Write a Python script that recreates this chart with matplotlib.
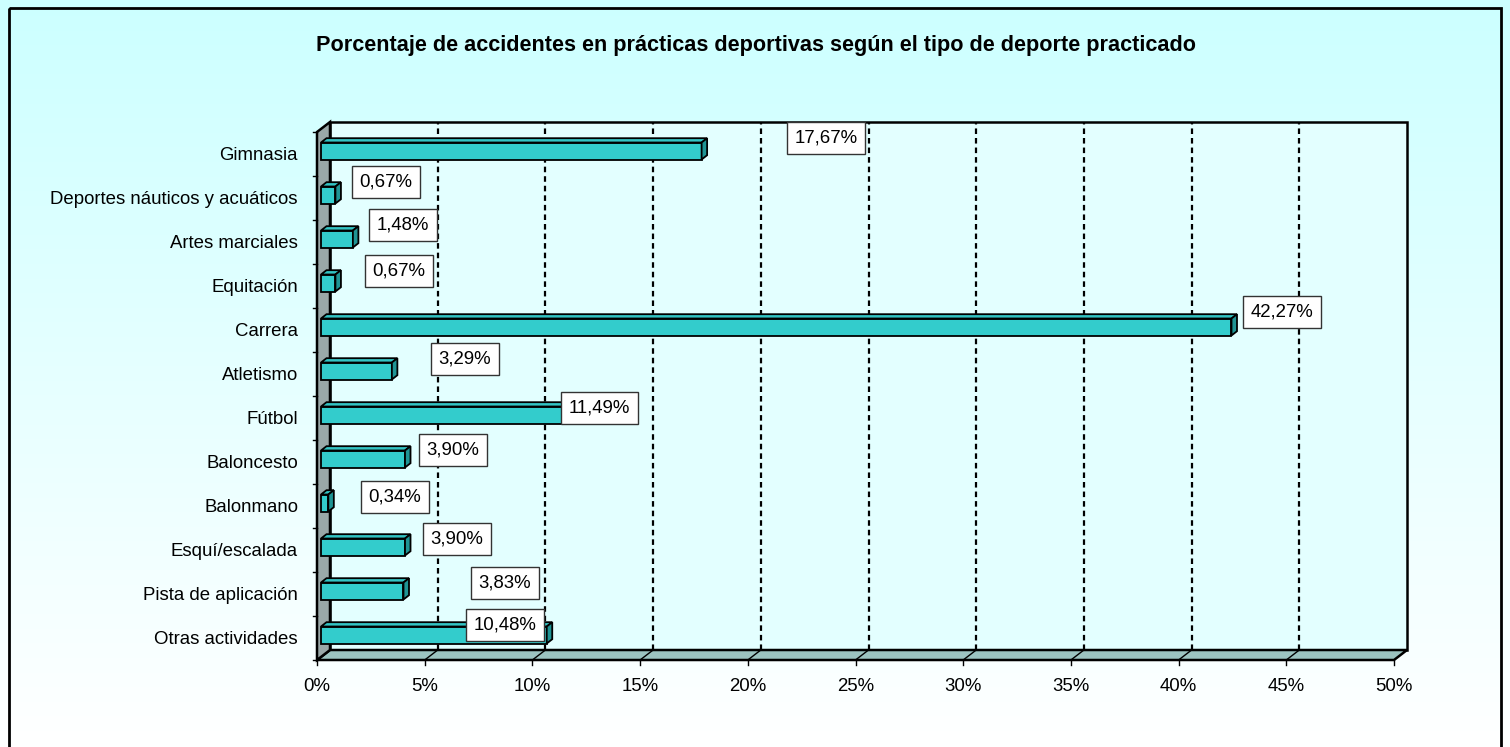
import numpy as np
import matplotlib.pyplot as plt
from matplotlib.patches import Polygon, Rectangle

plt.rcParams['font.family'] = ['Liberation Sans', 'DejaVu Sans']

# Data
categories = ['Gimnasia', 'Deportes náuticos y acuáticos', 'Artes marciales', 'Equitación',
              'Carrera', 'Atletismo', 'Fútbol', 'Baloncesto', 'Balonmano',
              'Esquí/escalada', 'Pista de aplicación', 'Otras actividades']
values = [17.67, 0.67, 1.48, 0.67, 42.27, 3.29, 11.49, 3.90, 0.34, 3.90, 3.83, 10.48]
value_labels = ['17,67%', '0,67%', '1,48%', '0,67%', '42,27%', '3,29%', '11,49%',
                '3,90%', '0,34%', '3,90%', '3,83%', '10,48%']
xticks = [0, 5, 10, 15, 20, 25, 30, 35, 40, 45, 50]
xtick_labels = ['0%', '5%', '10%', '15%', '20%', '25%', '30%', '35%', '40%', '45%', '50%']
title = 'Porcentaje de accidentes en prácticas deportivas según el tipo de deporte practicado'

# where the value boxes sit (x in %, shift up in px from the category centre)
label_x = [23.63, 3.20, 3.99, 3.81, 44.80, 6.87, 13.11, 6.31, 3.62, 6.50, 8.73, 8.73]
label_dy = [16, 16, 17, 15, 18, 15, 10, 12, 9, 11, 11, 13]

W, H = 1510, 747
fs = 13.4
fig = plt.figure(figsize=(W / 100, H / 100), dpi=100)

# background with gradient and frame
bg = fig.add_axes([0, 0, 1, 1])
bg.set_xlim(0, W)
bg.set_ylim(H, 0)
bg.axis('off')
c_top = np.array([0.80, 1.0, 1.0])
c_bot = np.array([1.0, 1.0, 1.0])
t = np.linspace(0, 1, 256)[:, None]
grad = (c_top * (1 - t) + c_bot * t)[:, None, :]
bg.imshow(grad, extent=(0, W, H, 0), aspect='auto', zorder=0)
bg.add_patch(Rectangle((8.5, 7.5), 1492, 760, fill=False, ec='black', lw=2, zorder=1, clip_on=False))
bg.text(756, 45, title, ha='center', va='center', fontsize=15.6, fontweight='bold')

# main axes = front plane of the 3d box
x0, x1, y0, y1 = 317, 1394, 132, 660
ax = fig.add_axes([x0 / W, (H - y1) / H, (x1 - x0) / W, (y1 - y0) / H])
ax.set_facecolor('none')
for s in ax.spines.values():
    s.set_visible(False)
n = len(categories)
ax.set_xlim(0, 50)
ax.set_ylim(-0.5, n - 0.5)
PX = (x1 - x0) / 50
PY = (y1 - y0) / n
DX, DY = 13 / PX, 10 / PY
lo, hi = -0.5, n - 0.5

# walls and floor
ax.add_patch(Rectangle((DX, lo + DY), 50, n, fc='#e3ffff', ec='black', lw=1.8, zorder=1, clip_on=False))
ax.add_patch(Polygon([(0, lo), (50, lo), (50 + DX, lo + DY), (DX, lo + DY)],
                     fc='#9cc4c1', ec='black', lw=1.8, zorder=2, clip_on=False))
ax.add_patch(Polygon([(0, lo), (DX, lo + DY), (DX, hi + DY), (0, hi)],
                     fc='#9aa8a8', ec='black', lw=1.8, zorder=2, clip_on=False))

for xt in xticks[1:-1]:
    ax.plot([xt + DX, xt + DX], [lo + DY, hi + DY], color='black', lw=1.6,
            ls=(0, (2.5, 1.8)), zorder=3, clip_on=False)
    ax.plot([xt, xt + DX], [lo, lo + DY], color='black', lw=1, zorder=3, clip_on=False)
for xt in xticks:
    ax.plot([xt, xt], [lo, lo - 5 / PY], color='black', lw=1, zorder=3, clip_on=False)
for k in range(n + 1):
    ax.plot([-4 / PX, 0], [k - 0.5, k - 0.5], color='black', lw=1, zorder=3, clip_on=False)

# bars
ypos = np.arange(n)[::-1]
BX, BY, BH = 4 / PX, 3 / PY, 17 / PY
TX, TY = 5.5 / PX, 4.3 / PY
ax.barh(ypos + BY, values, height=BH, left=BX, color='#33cccc', edgecolor='black', lw=1.3, zorder=5)
for v, y in zip(values, ypos):
    yt = y + BY + BH / 2
    yb = y + BY - BH / 2
    top = [(BX, yt), (BX + v, yt), (BX + v + TX, yt + TY), (BX + TX, yt + TY)]
    side = [(BX + v, yb), (BX + v, yt), (BX + v + TX, yt + TY), (BX + v + TX, yb + TY)]
    ax.add_patch(Polygon(top, fc='#33c4c4', ec='black', lw=1.3, zorder=5, clip_on=False))
    ax.add_patch(Polygon(side, fc='#1f9494', ec='black', lw=1.3, zorder=5, clip_on=False))

# value boxes
for lab, lx, dy, y in zip(value_labels, label_x, label_dy, ypos):
    ax.text(lx, y + dy / PY, lab, ha='center', va='center', fontsize=fs, zorder=7,
            bbox=dict(boxstyle='square,pad=0.42', fc='white', ec='#333333', lw=1))

ax.set_yticks(ypos, categories, fontsize=fs)
ax.set_xticks(xticks, xtick_labels, fontsize=fs)
ax.tick_params(axis='y', length=0, pad=19 * 0.72)
ax.tick_params(axis='x', length=0, pad=18 * 0.72)

plt.savefig('out.png', dpi=100)
